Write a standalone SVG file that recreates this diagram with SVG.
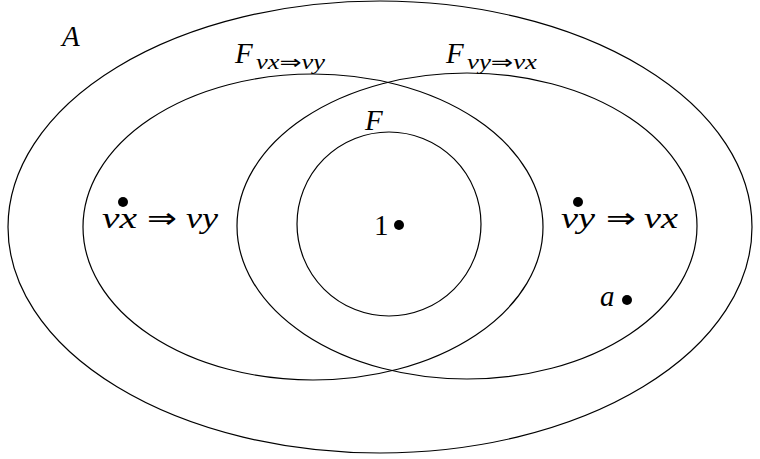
<svg xmlns="http://www.w3.org/2000/svg" width="760" height="459" viewBox="0 0 760 459">
<style>
.sh{fill:none;stroke:#000;stroke-width:1.2}
.t{font-family:"Liberation Serif","DejaVu Serif",serif;font-style:italic;font-size:29px;fill:#000}
.s{font-family:"Liberation Serif","DejaVu Serif",serif;font-style:italic;font-size:20px;fill:#000}
.ar{font-family:"DejaVu Sans",sans-serif;font-style:normal}
.up{font-style:normal}
.d{fill:#000}
</style>
<rect width="760" height="459" fill="#fff"/>
<g id="A">
<ellipse class="sh" cx="380" cy="227" rx="372" ry="226"/>
<text class="t" x="62" y="46">A</text>
</g>
<g id="Fxy">
<ellipse class="sh" cx="313" cy="227" rx="230" ry="153"/>
<text class="t" x="235" y="63">F</text>
<text class="s" x="256" y="69" textLength="69" lengthAdjust="spacingAndGlyphs">νx<tspan class="ar">⇒</tspan>νy</text>
</g>
<g id="Fyx">
<ellipse class="sh" cx="467" cy="226" rx="230" ry="153"/>
<text class="t" x="446" y="63">F</text>
<text class="s" x="467" y="69" textLength="70" lengthAdjust="spacingAndGlyphs">νy<tspan class="ar">⇒</tspan>νx</text>
</g>
<g id="F">
<circle class="sh" cx="389" cy="224" r="92"/>
<text class="t" x="365" y="130">F</text>
</g>
<g id="p1">
<circle class="d" cx="399" cy="225" r="5"/>
<text class="t up" x="374" y="235">1</text>
</g>
<g id="pxy">
<circle class="d" cx="123" cy="202" r="5"/>
<text class="t" x="102" y="228" textLength="35" lengthAdjust="spacingAndGlyphs">νx</text>
<text class="t ar" x="147" y="228" font-size="24" textLength="30" lengthAdjust="spacingAndGlyphs">⇒</text>
<text class="t" x="186" y="228" textLength="32" lengthAdjust="spacingAndGlyphs">νy</text>
</g>
<g id="pyx">
<circle class="d" cx="578" cy="202" r="5"/>
<text class="t" x="561" y="228" textLength="34" lengthAdjust="spacingAndGlyphs">νy</text>
<text class="t ar" x="606" y="228" font-size="24" textLength="30" lengthAdjust="spacingAndGlyphs">⇒</text>
<text class="t" x="644" y="228" textLength="34" lengthAdjust="spacingAndGlyphs">νx</text>
</g>
<g id="pa">
<circle class="d" cx="627" cy="300" r="5"/>
<text class="t" x="600" y="306">a</text>
</g>
</svg>
